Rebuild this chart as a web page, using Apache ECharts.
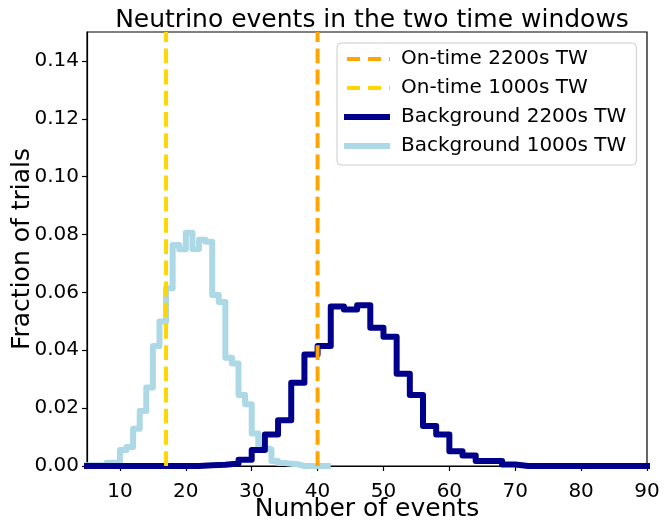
<!DOCTYPE html>
<html>
<head>
<meta charset="utf-8">
<script src="https://cdn.jsdelivr.net/npm/echarts@6/dist/echarts.min.js"></script>
<style>html,body{margin:0;padding:0;background:#fff;}#c{width:665px;height:528px;}</style>
</head>
<body>
<div id="c"></div>
<script>
// Background 1000s TW histogram (bin width 1)
var light1000Edges = [4,5,6,7,8,9,10,11,12,13,14,15,16,17,18,19,20,21,22,23,24,25,26,27,28,29,30,31,32,33,34,35,36,37,38,39,40,41,42];
var light1000Values = [0.0003,0.0003,0.0003,0.0003,0.0011,0.0011,0.0055,0.0066,0.0129,0.0190,0.0271,0.0415,0.0499,0.0614,0.0764,0.0749,0.0806,0.0750,0.0782,0.0775,0.0591,0.0567,0.0374,0.0354,0.0245,0.0213,0.0112,0.0063,0.0057,0.0017,0.0010,0.0008,0.0006,0,0,0,0,0];
// Background 2200s TW histogram (bin width 2)
var dark2200Edges = [4,6,8,10,12,14,16,18,20,22,24,26,28,30,32,34,36,38,40,42,44,46,48,50,52,54,56,58,60,62,64,66,68,70,72,74,76,78,80,82,84,86,88,90,92];
var dark2200Values = [0,0,0,0,0,0,0,0,0,0.0003,0.0004,0.0009,0.0022,0.0055,0.0109,0.0158,0.0288,0.0385,0.0415,0.0551,0.0541,0.0556,0.0478,0.0447,0.0319,0.0245,0.0138,0.0109,0.0051,0.0036,0.0017,0.0017,0.0005,0,0,0,0,0,0,0,0,0,0,0];
// On-time event counts
var onTime2200 = 40;
var onTime1000 = 17;
var xTicks = [10,20,30,40,50,60,70,80,90];
var yTicks = [0,0.02,0.04,0.06,0.08,0.10,0.12,0.14];

function stepPoints(edges, values) {
  var pts = [];
  for (var i = 0; i < values.length; i++) pts.push([edges[i], values[i]]);
  pts.push([edges[values.length], values[values.length - 1]]);
  return pts;
}

var FONT = 'DejaVu Sans';
var chart = echarts.init(document.getElementById('c'), null, {renderer: 'canvas'});
var dash = [14.8, 6.4];
chart.setOption({
  animation: false,
  title: {
    text: 'Neutrino events in the two time windows',
    left: 367, top: 3, textAlign: 'center',
    textStyle: {fontFamily: FONT, fontSize: 25, fontWeight: 'normal', color: '#000'}
  },
  grid: {left: 87, right: 18, top: 32, bottom: 62, show: true, borderColor: '#000', borderWidth: 1.2,
    backgroundColor: 'transparent', containLabel: false, outerBoundsMode: 'none'},
  legend: {
    orient: 'vertical', left: 337, top: 43,
    itemWidth: 46, itemHeight: 14, itemGap: 5,
    padding: [4, 10, 7, 4],
    backgroundColor: 'rgba(255,255,255,0.85)', borderColor: '#cccccc', borderWidth: 1, borderRadius: 4,
    textStyle: {fontFamily: FONT, fontSize: 20, color: '#000', lineHeight: 24, padding: [0, 0, 0, 6]},
    itemStyle: {opacity: 0},
    data: [
      {name: 'On-time 2200s TW', lineStyle: {width: 4, type: [13, 8], dashOffset: 18, color: '#FFA500'}},
      {name: 'On-time 1000s TW', lineStyle: {width: 4, type: [13, 8], dashOffset: 18, color: '#FFD700'}},
      {name: 'Background 2200s TW', lineStyle: {width: 6, type: 'solid', color: '#00008B'}},
      {name: 'Background 1000s TW', lineStyle: {width: 6, type: 'solid', color: '#ADD8E6'}}
    ]
  },
  xAxis: {
    type: 'value', min: 5, max: 90,
    name: 'Number of events', nameLocation: 'middle', nameGap: 31, nameMoveOverlap: false,
    nameTextStyle: {fontFamily: FONT, fontSize: 25, color: '#000'},
    axisLine: {show: true, onZero: false, lineStyle: {color: '#000', width: 1.2}},
    axisTick: {show: true, length: 5, customValues: xTicks, lineStyle: {color: '#000', width: 1.2}},
    axisLabel: {customValues: xTicks, fontFamily: FONT, fontSize: 20, color: '#000', margin: 16},
    splitLine: {show: false}
  },
  yAxis: {
    type: 'value', min: 0, max: 0.15,
    name: 'Fraction of trials', nameLocation: 'middle', nameGap: 52, nameMoveOverlap: false,
    nameTextStyle: {fontFamily: FONT, fontSize: 25, color: '#000'},
    axisLine: {show: true, lineStyle: {color: '#000', width: 1.2}},
    axisTick: {show: true, length: 5, customValues: yTicks, lineStyle: {color: '#000', width: 1.2}},
    axisLabel: {customValues: yTicks, fontFamily: FONT, fontSize: 20, color: '#000', margin: 8,
      formatter: function (v) { return v.toFixed(2); }},
    splitLine: {show: false}
  },
  series: [
    {
      name: 'Background 1000s TW', type: 'line', step: 'end', symbol: 'none', showSymbol: false, clip: true,
      data: stepPoints(light1000Edges, light1000Values),
      lineStyle: {color: '#ADD8E6', width: 6, join: 'round'},
      itemStyle: {color: '#ADD8E6'}, z: 2
    },
    {
      name: 'Background 2200s TW', type: 'line', step: 'end', symbol: 'none', showSymbol: false, clip: true,
      data: stepPoints(dark2200Edges, dark2200Values),
      lineStyle: {color: '#00008B', width: 6, join: 'round'},
      itemStyle: {color: '#00008B'}, z: 3
    },
    {
      name: 'On-time 2200s TW', type: 'line', symbol: 'none', showSymbol: false, clip: true,
      data: [[onTime2200, 0], [onTime2200, 0.15]],
      lineStyle: {color: '#FFA500', width: 4, type: dash},
      itemStyle: {color: '#FFA500'}, z: 4
    },
    {
      name: 'On-time 1000s TW', type: 'line', symbol: 'none', showSymbol: false, clip: true,
      data: [[onTime1000, 0], [onTime1000, 0.15]],
      lineStyle: {color: '#FFD700', width: 4, type: dash},
      itemStyle: {color: '#FFD700'}, z: 4
    }
  ]
});
</script>
</body>
</html>
